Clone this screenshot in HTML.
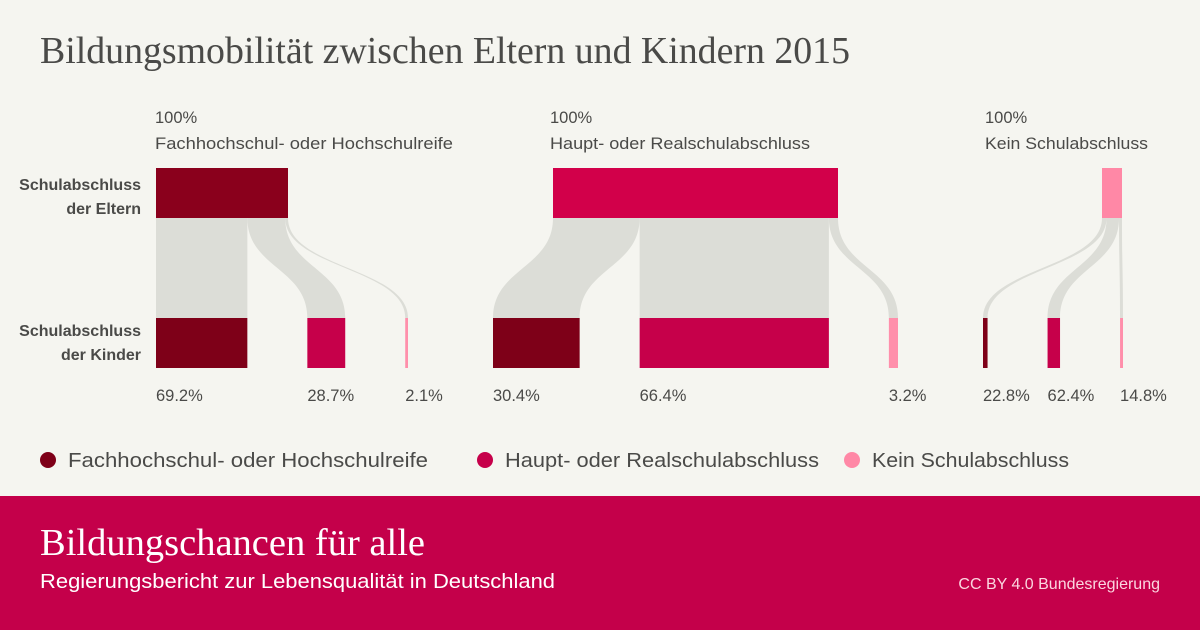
<!DOCTYPE html>
<html><head><meta charset="utf-8"><style>
body{margin:0;background:#f5f5f0;}
svg{display:block;font-family:"Liberation Sans",sans-serif;}
</style></head><body>
<svg id="chart" width="1200" height="630" viewBox="0 0 1200 630">
<rect x="0" y="0" width="1200" height="630" fill="#f5f5f0"/>
<text x="40" y="63" font-family="Liberation Serif,serif" font-size="38" fill="#4a4a48" textLength="810" lengthAdjust="spacingAndGlyphs">Bildungsmobilität zwischen Eltern und Kindern 2015</text>
<text x="141" y="190" font-size="16" font-weight="bold" fill="#4a4a48" text-anchor="end">Schulabschluss</text>
<text x="141" y="214" font-size="16" font-weight="bold" fill="#4a4a48" text-anchor="end">der Eltern</text>
<text x="141" y="336" font-size="16" font-weight="bold" fill="#4a4a48" text-anchor="end">Schulabschluss</text>
<text x="141" y="360" font-size="16" font-weight="bold" fill="#4a4a48" text-anchor="end">der Kinder</text>
<g id="flows"></g>
<g id="bars"></g>
<g id="labels"></g>
<g>
<circle cx="48" cy="460" r="8" fill="#7e0018"/>
<text x="68" y="467" font-size="20" fill="#4a4a48" textLength="360" lengthAdjust="spacingAndGlyphs">Fachhochschul- oder Hochschulreife</text>
<circle cx="485" cy="460" r="8" fill="#c6004a"/>
<text x="505" y="467" font-size="20" fill="#4a4a48" textLength="314" lengthAdjust="spacingAndGlyphs">Haupt- oder Realschulabschluss</text>
<circle cx="852" cy="460" r="8" fill="#ff88a6"/>
<text x="872" y="467" font-size="20" fill="#4a4a48" textLength="197" lengthAdjust="spacingAndGlyphs">Kein Schulabschluss</text>
</g>
<rect x="0" y="496" width="1200" height="134" fill="#c4004a"/>
<text x="40" y="555" font-family="Liberation Serif,serif" font-size="38" fill="#fff" textLength="385" lengthAdjust="spacingAndGlyphs">Bildungschancen für alle</text>
<text x="40" y="588" font-size="20" fill="#fff" textLength="515" lengthAdjust="spacingAndGlyphs">Regierungsbericht zur Lebensqualität in Deutschland</text>
<text x="1160" y="589" font-size="16" fill="#fbd6e0" text-anchor="end">CC BY 4.0 Bundesregierung</text>
</svg>
<script>
const groupNames = ["Fachhochschul- oder Hochschulreife","Haupt- oder Realschulabschluss","Kein Schulabschluss"];
const parentSizes = [132, 285, 20];
const shareFH = [69.2, 30.4, 22.8];
const shareHR = [28.7, 66.4, 62.4];
const shareKein = [2.1, 3.2, 14.8];
const parentLabelValues = ["100%","100%","100%"];
const parentX = [156, 553, 1102];
const childStart = [156, 493, 983];
const gap = 60;
const parentColors = ["#8a001c","#d2004a","#ff88a6"];
const childColors = ["#7e0018","#c6004a","#ff8fab"];
const labelX = [155, 550, 985];
const labelLen = [298, 260, 163];
const NS = "http://www.w3.org/2000/svg";
const flows = document.getElementById('flows'), bars = document.getElementById('bars'), labels = document.getElementById('labels');
const y0 = 168, y1 = 218, y2 = 318, y3 = 368;
function mk(tag, attrs, parent){const e=document.createElementNS(NS,tag);for(const k in attrs)e.setAttribute(k,attrs[k]);parent.appendChild(e);return e;}
function fmt(v){return v.toFixed(1)+"%";}
for(let g=0; g<3; g++){
  const W = parentSizes[g];
  const shares = [shareFH[g], shareHR[g], shareKein[g]];
  const p = mk('rect',{x:parentX[g],y:y0,width:W,height:y1-y0,fill:parentColors[g]},bars);
  
  
  let t = mk('text',{x:labelX[g],y:123,'font-size':16.5,fill:'#4a4a48'},labels);
  t.textContent = parentLabelValues[g];
  
  
  t = mk('text',{x:labelX[g],y:149,'font-size':16.5,fill:'#4a4a48',textLength:labelLen[g],lengthAdjust:'spacingAndGlyphs'},labels);
  t.textContent = groupNames[g];
  
  
  let sx = parentX[g], cx = childStart[g];
  for(let c=0; c<3; c++){
    const w = W*shares[c]/100;
    const ym = (y1+y2)/2;
    const d = `M${sx},${y1} C${sx},${ym} ${cx},${ym} ${cx},${y2} L${cx+w},${y2} C${cx+w},${ym} ${sx+w},${ym} ${sx+w},${y1} Z`;
    const f = mk('path',{d:d,fill:'#dcddd7'},flows);
    
    
    const r = mk('rect',{x:cx,y:y2,width:Math.max(w,1),height:y3-y2,fill:childColors[c]},bars);
    
    
    const l = mk('text',{x:cx,y:401,'font-size':16.5,fill:'#4a4a48'},labels);
    l.textContent = fmt(shares[c]);
    
    
    sx += w; cx += w + gap;
  }
}
</script>
</body></html>
